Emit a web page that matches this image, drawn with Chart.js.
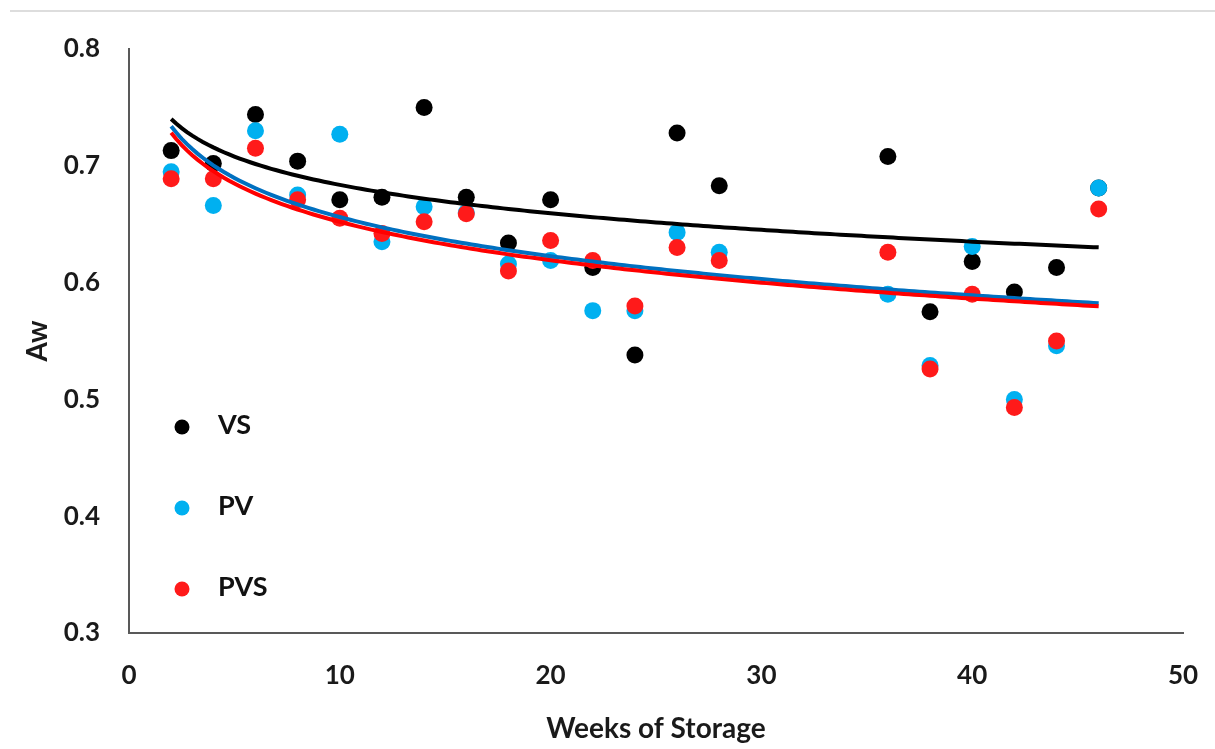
<!DOCTYPE html>
<html>
<head>
<meta charset="utf-8">
<script src="https://cdn.jsdelivr.net/npm/chart.js@4.4.1/dist/chart.umd.min.js"></script>
<style>
    html, body { margin: 0; padding: 0; background: #fff; }
    #wrap { position: relative; width: 1215px; height: 749px; }
    #top-rule { position: absolute; top: 10px; left: 10px; right: 0; height: 2px; background: #dddddd; }
</style>
</head>
<body>
<div id="wrap">
    <div id="top-rule"></div>
    <canvas id="chart" width="1215" height="749"></canvas>
</div>
<script>
// Data (weeks of storage vs water activity)
const vsWeeks  = [2, 4, 6, 8, 10, 12, 14, 16, 18, 20, 22, 24, 26, 28, 36, 38, 40, 42, 44, 46];
const vsAw     = [0.713, 0.702, 0.744, 0.704, 0.671, 0.673, 0.750, 0.673, 0.634, 0.671, 0.613, 0.538, 0.728, 0.683, 0.708, 0.575, 0.618, 0.592, 0.613, 0.681];

const pvWeeks  = [2, 4, 6, 8, 10, 12, 14, 16, 18, 20, 22, 24, 26, 28, 36, 38, 40, 42, 44, 46];
const pvAw     = [0.695, 0.666, 0.730, 0.675, 0.727, 0.635, 0.665, 0.660, 0.616, 0.619, 0.576, 0.576, 0.643, 0.626, 0.590, 0.529, 0.631, 0.500, 0.546, 0.681];

const pvsWeeks = [2, 4, 6, 8, 10, 12, 14, 16, 18, 20, 22, 24, 26, 28, 36, 38, 40, 42, 44, 46];
const pvsAw    = [0.689, 0.689, 0.715, 0.671, 0.655, 0.642, 0.652, 0.659, 0.610, 0.636, 0.619, 0.580, 0.630, 0.619, 0.626, 0.526, 0.590, 0.493, 0.550, 0.663];

const xTicks = [0, 10, 20, 30, 40, 50];
const yTicks = [0.3, 0.4, 0.5, 0.6, 0.7, 0.8];

const FONT = 'Lato, "Open Sans", sans-serif';

// Logarithmic trendline (least squares on ln x), like the spreadsheet one
function logFit(xs, ys) {
    const n = xs.length;
    const lx = xs.map(Math.log);
    const mx = lx.reduce((s, v) => s + v, 0) / n;
    const my = ys.reduce((s, v) => s + v, 0) / n;
    let sxy = 0, sxx = 0;
    for (let i = 0; i < n; i++) {
        sxy += (lx[i] - mx) * (ys[i] - my);
        sxx += (lx[i] - mx) * (lx[i] - mx);
    }
    const b = sxy / sxx;
    return { a: my - b * mx, b };
}

function trendPoints(xs, ys) {
    const { a, b } = logFit(xs, ys);
    const lo = Math.min(...xs), hi = Math.max(...xs);
    const pts = [];
    for (let x = lo; x <= hi + 1e-9; x += 0.25) pts.push({ x, y: a + b * Math.log(x) });
    return pts;
}

const toXY = (xs, ys) => xs.map((x, i) => ({ x, y: ys[i] }));

function scatterSet(label, xs, ys, color, order) {
    return {
        type: 'scatter', label, data: toXY(xs, ys), order,
        backgroundColor: color, borderWidth: 0,
        pointRadius: 8.5, pointHoverRadius: 8.5
    };
}

function trendSet(label, xs, ys, color, order) {
    return {
        type: 'line', label, data: trendPoints(xs, ys), order, trend: true,
        borderColor: color, borderWidth: 4, pointRadius: 0, fill: false, tension: 0
    };
}

// In-plot legend, stacked at the lower left
const legendInside = {
    id: 'legendInside',
    afterDatasetsDraw(chart) {
        const { ctx, chartArea } = chart;
        const rows = chart.data.datasets.filter(d => !d.trend);
        ctx.save();
        ctx.font = 'bold 27px ' + FONT;
        ctx.textBaseline = 'middle';
        rows.forEach((d, i) => {
            const y = chartArea.top + 378 + i * 81;
            ctx.fillStyle = d.backgroundColor;
            ctx.beginPath();
            ctx.arc(chartArea.left + 53, y, 7.5, 0, Math.PI * 2);
            ctx.fill();
            ctx.fillStyle = '#111';
            ctx.fillText(d.label, chartArea.left + 89, y - 2);
        });
        ctx.restore();
    }
};

new Chart(document.getElementById('chart'), {
    data: {
        datasets: [
            scatterSet('VS', vsWeeks, vsAw, '#000000', 5),
            scatterSet('PV', pvWeeks, pvAw, '#00b0f0', 4),
            scatterSet('PVS', pvsWeeks, pvsAw, '#ff1a1a', 3),
            trendSet('VS trend', vsWeeks, vsAw, '#000000', 2),
            trendSet('PV trend', pvWeeks, pvAw, '#0070c0', 1),
            trendSet('PVS trend', pvsWeeks, pvsAw, '#ff0000', 0)
        ]
    },
    options: {
        responsive: false,
        animation: false,
        layout: { padding: { top: 49, right: 32, left: 0, bottom: 0 } },
        plugins: { legend: { display: false }, tooltip: { enabled: false } },
        scales: {
            x: {
                type: 'linear', min: 0, max: 50,
                afterBuildTicks: s => { s.ticks = xTicks.map(v => ({ value: v })); },
                afterFit: s => { s.height = 116; s.paddingLeft = 0; s.paddingRight = 0; },
                grid: { display: false, drawTicks: false },
                border: { display: true, color: '#595959', width: 2 },
                ticks: { padding: 27, color: '#1a1a1a', font: { family: FONT, size: 26, weight: 'bold' } },
                title: {
                    display: true, text: 'Weeks of Storage', color: '#1a1a1a',
                    font: { family: FONT, size: 28, weight: 'bold' }, padding: { top: 0, bottom: 3 }
                }
            },
            y: {
                type: 'linear', min: 0.3, max: 0.8,
                afterBuildTicks: s => { s.ticks = yTicks.map(v => ({ value: v })); },
                afterFit: s => { s.width = 129; s.paddingTop = 0; s.paddingBottom = 0; },
                grid: { display: false, drawTicks: false },
                border: { display: true, color: '#595959', width: 2 },
                ticks: {
                    padding: 29, color: '#1a1a1a',
                    font: { family: FONT, size: 26, weight: 'bold' },
                    callback: v => v.toFixed(1)
                },
                title: {
                    display: true, text: 'Aw', color: '#1a1a1a',
                    font: { family: FONT, size: 28, weight: 'bold' }, padding: { top: 21, bottom: 0 }
                }
            }
        }
    },
    plugins: [legendInside]
});
</script>
</body>
</html>
